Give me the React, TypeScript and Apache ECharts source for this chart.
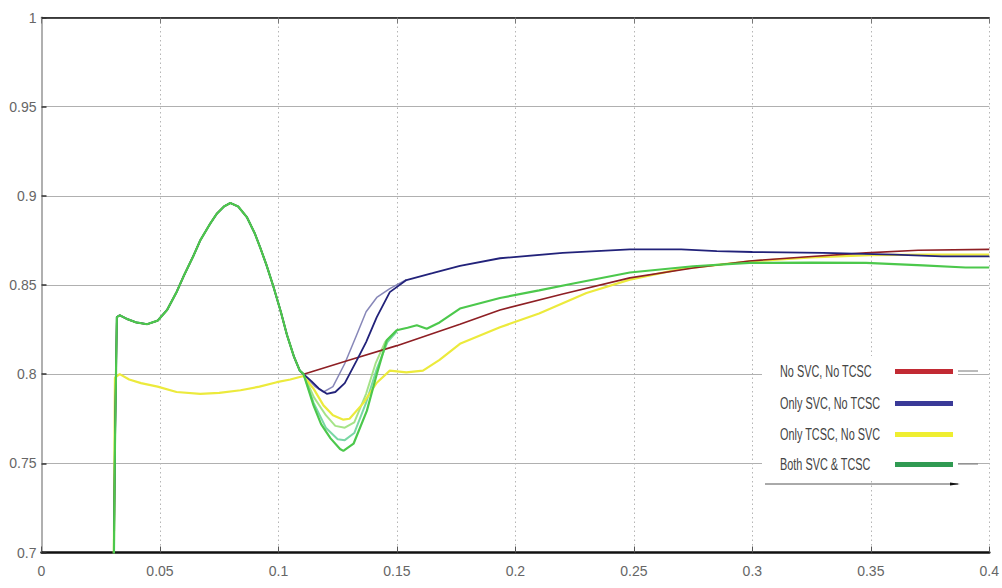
import React, { useEffect, useRef } from "react";
import * as echarts from "echarts";

// ---------- data ----------
const legendNames = ["No SVC, No TCSC", "Only SVC, No TCSC", "Only TCSC, No SVC", "Both SVC & TCSC"];
const xTicks = [0, 0.05, 0.1, 0.15, 0.2, 0.25, 0.3, 0.35, 0.4];
const yTicks = [0.7, 0.75, 0.8, 0.85, 0.9, 0.95, 1];

// shared pre-fault trajectory (red, blue, green)
const preT = [0.0305, 0.031, 0.0318, 0.033, 0.036, 0.04, 0.0445, 0.049, 0.053, 0.057, 0.06, 0.064, 0.067, 0.071, 0.074, 0.077, 0.0797, 0.083, 0.0867, 0.09, 0.0923, 0.095, 0.0979, 0.101, 0.1036, 0.1065, 0.109];
const preV = [0.69, 0.76, 0.832, 0.833, 0.831, 0.829, 0.828, 0.83, 0.836, 0.846, 0.855, 0.866, 0.875, 0.884, 0.89, 0.894, 0.896, 0.894, 0.888, 0.879, 0.871, 0.861, 0.849, 0.835, 0.822, 0.81, 0.802];

const yellowPreT = [0.0305, 0.031, 0.033, 0.037, 0.042, 0.049, 0.057, 0.067, 0.075, 0.084, 0.092, 0.0993, 0.105];
const yellowPreV = [0.69, 0.798, 0.8, 0.797, 0.795, 0.793, 0.79, 0.789, 0.7895, 0.791, 0.793, 0.7955, 0.797];

const redPostT = [0.1106, 0.13, 0.15, 0.1766, 0.1935, 0.22, 0.2483, 0.275, 0.2988, 0.325, 0.348, 0.37, 0.4];
const redPostV = [0.8, 0.808, 0.816, 0.828, 0.836, 0.845, 0.854, 0.8595, 0.8635, 0.866, 0.868, 0.8695, 0.87];

const bluePostT = [0.1106, 0.114, 0.117, 0.1204, 0.124, 0.128, 0.133, 0.137, 0.1415, 0.147, 0.154, 0.165, 0.1766, 0.1935, 0.22, 0.2483, 0.27, 0.285, 0.3, 0.33, 0.36, 0.38, 0.4];
const bluePostV = [0.8, 0.796, 0.792, 0.789, 0.79, 0.795, 0.8076, 0.818, 0.832, 0.846, 0.8528, 0.8566, 0.8607, 0.865, 0.868, 0.87, 0.87, 0.869, 0.8685, 0.868, 0.867, 0.866, 0.866];
const blueAltT = [0.1106, 0.1155, 0.119, 0.123, 0.128, 0.133, 0.137, 0.1415, 0.147, 0.154];
const blueAltV = [0.8, 0.793, 0.79, 0.793, 0.806, 0.822, 0.835, 0.843, 0.848, 0.853];

const yellowPostT = [0.1106, 0.115, 0.119, 0.123, 0.1274, 0.13, 0.1359, 0.1415, 0.147, 0.154, 0.161, 0.168, 0.1766, 0.1935, 0.21, 0.23, 0.2483, 0.27, 0.2988, 0.325, 0.35, 0.375, 0.4];
const yellowPostV = [0.799, 0.7915, 0.7825, 0.777, 0.7745, 0.775, 0.7839, 0.7952, 0.802, 0.801, 0.802, 0.808, 0.817, 0.8263, 0.834, 0.8455, 0.853, 0.859, 0.8632, 0.8655, 0.8668, 0.867, 0.867];

const greenPostT = [0.1106, 0.1148, 0.118, 0.122, 0.126, 0.1274, 0.1317, 0.1373, 0.1415, 0.1457, 0.1499, 0.1545, 0.1584, 0.1626, 0.168, 0.1766, 0.1935, 0.21, 0.225, 0.2483, 0.275, 0.2988, 0.325, 0.348, 0.372, 0.39, 0.4];
const greenPostV = [0.8, 0.7825, 0.772, 0.764, 0.758, 0.757, 0.761, 0.7794, 0.8, 0.819, 0.8246, 0.826, 0.8274, 0.8255, 0.829, 0.8368, 0.8427, 0.847, 0.851, 0.857, 0.8605, 0.8624, 0.8625, 0.8624, 0.861, 0.8598, 0.8598];
const greenAlt1T = [0.1106, 0.1148, 0.12, 0.125, 0.128, 0.132, 0.137, 0.1415, 0.146, 0.15];
const greenAlt1V = [0.8, 0.784, 0.77, 0.7635, 0.763, 0.767, 0.784, 0.803, 0.818, 0.824];
const greenAlt2T = [0.1106, 0.115, 0.12, 0.124, 0.128, 0.132, 0.137, 0.141, 0.145, 0.149];
const greenAlt2V = [0.8, 0.787, 0.777, 0.771, 0.77, 0.773, 0.789, 0.806, 0.818, 0.823];

// ---------- helpers ----------
const pairs = (t: number[], v: number[]) => t.map((x, i) => [x, v[i]]);

const lineColors = ["#8e1f24", "#22227a", "#ecea3c", "#4cc84c"];
const legendColors = ["#c22a33", "#3a3a98", "#efee30", "#2f9a52"];

export default function App() {
  const ref = useRef<HTMLDivElement>(null);

  useEffect(() => {
    if (!ref.current) return;
    const chart = echarts.init(ref.current, undefined, { renderer: "svg" });
    const fam = "'Liberation Sans', Arial, sans-serif";

    const mk = (name: string, data: number[][], color: string, z: number, width = 2, opacity = 1) => ({
      type: "line",
      name,
      data,
      showSymbol: false,
      symbol: "none",
      z,
      clip: true,
      lineStyle: { color, width, opacity },
      emphasis: { disabled: true },
    });

    const series = [
      mk("blueAlt", pairs(blueAltT, blueAltV), "#7a7ab0", 1, 1.5, 0.9),
      mk("greenAlt2", pairs(greenAlt2T, greenAlt2V), "#9be07a", 1, 2, 0.9),
      mk("greenAlt1", pairs(greenAlt1T, greenAlt1V), "#6ad39a", 1, 2, 0.9),
      mk(legendNames[2], pairs([...yellowPreT, ...yellowPostT], [...yellowPreV, ...yellowPostV]), lineColors[2], 2, 2.2),
      mk(legendNames[0], pairs([...preT, ...redPostT], [...preV, ...redPostV]), lineColors[0], 3, 1.6),
      mk(legendNames[1], pairs([...preT, ...bluePostT], [...preV, ...bluePostV]), lineColors[1], 3, 1.8),
      mk(legendNames[3], pairs([...preT, ...greenPostT], [...preV, ...greenPostV]), lineColors[3], 4, 2.2),
    ];

    const legendX = 780;
    const legendYs = [372, 404, 435, 465];
    const legendGraphics: any[] = [
      { type: "rect", shape: { x: 762, y: 356, width: 196, height: 124 }, style: { fill: "#fff" }, z: 50 },
    ];
    legendNames.forEach((n, i) => {
      legendGraphics.push({
        type: "text",
        x: legendX,
        y: legendYs[i],
        scaleX: 0.68,
        z: 51,
        style: { text: n, fill: "#444", font: `16px ${fam}`, verticalAlign: "middle" },
      });
      legendGraphics.push({
        type: "rect",
        z: 51,
        shape: { x: 895, y: legendYs[i] - 3, width: 58, height: 5 },
        style: { fill: legendColors[i] },
      });
    });
    legendGraphics.push(
      { type: "line", z: 51, shape: { x1: 765, y1: 484, x2: 958, y2: 484 }, style: { stroke: "#555", lineWidth: 1 } },
      { type: "polygon", z: 51, shape: { points: [[950, 482.5], [960, 484], [950, 485.5]] }, style: { fill: "#111" } },
      { type: "line", z: 51, shape: { x1: 958, y1: 371, x2: 978, y2: 371 }, style: { stroke: "#777", lineWidth: 1 } },
      { type: "line", z: 51, shape: { x1: 958, y1: 464, x2: 978, y2: 464 }, style: { stroke: "#777", lineWidth: 1 } }
    );

    const axisLabel = { color: "#666", fontFamily: fam, fontSize: 14 };

    chart.setOption({
      animation: false,
      backgroundColor: "#fff",
      grid: { left: 41.5, right: 12.5, top: 17.5, bottom: 35.5, containLabel: false },
      xAxis: [
        {
          type: "value",
          min: xTicks[0],
          max: xTicks[xTicks.length - 1],
          interval: 0.05,
          position: "bottom",
          axisLine: { lineStyle: { color: "#111", width: 2.5 } },
          axisTick: { inside: true, length: 6, lineStyle: { color: "#555", width: 1 } },
          axisLabel: { ...axisLabel, margin: 11 },
          splitLine: { show: true, lineStyle: { color: "#b5b5b5", type: [1.5, 3], width: 1 } },
        },
        {
          type: "value",
          min: xTicks[0],
          max: xTicks[xTicks.length - 1],
          interval: 0.05,
          position: "top",
          axisLine: { lineStyle: { color: "#111", width: 1.5 } },
          axisTick: { inside: true, length: 6, lineStyle: { color: "#777", width: 1 } },
          axisLabel: { show: false },
          splitLine: { show: false },
        },
      ],
      yAxis: [
        {
          type: "value",
          min: yTicks[0],
          max: yTicks[yTicks.length - 1],
          interval: 0.05,
          position: "left",
          axisLine: { show: true, lineStyle: { color: "#a0a0a0", width: 1.5 } },
          axisTick: { show: true, inside: true, length: 5, lineStyle: { color: "#333", width: 1.5 } },
          axisLabel: { ...axisLabel, margin: 5 },
          splitLine: { show: true, lineStyle: { color: "#b0b0b0", width: 1, type: "solid" } },
        },
        {
          type: "value",
          min: yTicks[0],
          max: yTicks[yTicks.length - 1],
          interval: 0.05,
          position: "right",
          axisLine: { show: true, lineStyle: { color: "#b0b0b0", width: 2 } },
          axisTick: { show: false },
          axisLabel: { show: false },
          splitLine: { show: false },
        },
      ],
      series,
      graphic: legendGraphics,
    });

    return () => chart.dispose();
  }, []);

  return (
    <div
      ref={ref}
      style={{ position: "fixed", left: 0, top: 0, width: 1002, height: 588, background: "#fff" }}
    />
  );
}
